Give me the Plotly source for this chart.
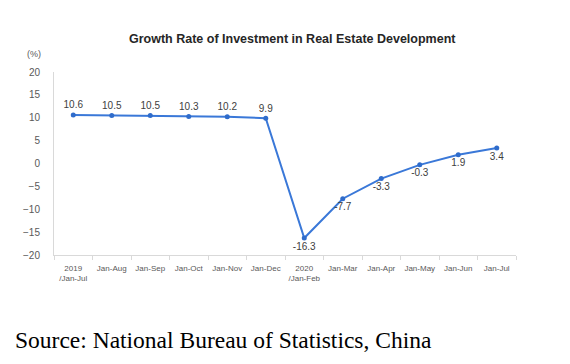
import plotly.graph_objects as go

categories = ["2019<br>/Jan-Jul", "Jan-Aug", "Jan-Sep", "Jan-Oct", "Jan-Nov", "Jan-Dec",
              "2020<br>/Jan-Feb", "Jan-Mar", "Jan-Apr", "Jan-May", "Jan-Jun", "Jan-Jul"]
values = [10.6, 10.5, 10.5, 10.3, 10.2, 9.9, -16.3, -7.7, -3.3, -0.3, 1.9, 3.4]
labels = ["10.6", "10.5", "10.5", "10.3", "10.2", "9.9", "-16.3", "-7.7", "-3.3", "-0.3", "1.9", "3.4"]
label_pos = ["top center"] * 6 + ["bottom center"] * 6
y_ticks = [20, 15, 10, 5, 0, -5, -10, -15, -20]

fig = go.Figure()
fig.add_trace(go.Scatter(
    x=list(range(len(categories))), y=values, mode="lines+markers+text",
    text=labels, textposition=label_pos,
    textfont=dict(family="Arial, Liberation Sans", size=10, color="#404040"),
    line=dict(color="#3A78D8", width=2),
    marker=dict(color="#2F6CCB", size=5),
    cliponaxis=False, showlegend=False,
))

fig.update_layout(
    width=562, height=356,
    margin=dict(l=46, r=54, t=64, b=109),
    paper_bgcolor="white", plot_bgcolor="white",
    font=dict(family="Arial, Liberation Sans", color="#595959"),
)
fig.update_xaxes(
    range=[-0.5, 11.5], tickmode="array",
    tickvals=list(range(len(categories))), ticktext=categories,
    showgrid=False, zeroline=False, showline=True, linecolor="#d9d9d9", linewidth=1,
    ticks="", ticklabelstandoff=5, tickfont=dict(size=8, color="#595959"),
)
fig.update_xaxes(minor=dict(tickvals=[i + 0.5 for i in range(-1, 12)], ticks="outside",
                            ticklen=4, tickcolor="#d9d9d9"))
fig.update_yaxes(
    range=[-20, 20], tickmode="array", tickvals=y_ticks,
    showgrid=False, zeroline=False, showline=True, linecolor="#d9d9d9", linewidth=1,
    ticks="", ticklabelstandoff=11, tickfont=dict(size=10, color="#595959"),
)

fig.add_annotation(text="<b>Growth Rate of Investment in Real Estate Development</b>",
                   xref="paper", yref="paper", x=0.517, y=1.0, yshift=33, showarrow=False,
                   xanchor="center", yanchor="middle",
                   font=dict(family="Arial, Liberation Sans", size=12.5, color="#262626"))
fig.add_annotation(text="(%)", xref="paper", yref="paper", x=0, xshift=-20, y=1.0, yshift=18,
                   showarrow=False, xanchor="center", yanchor="middle",
                   font=dict(size=9, color="#595959"))
fig.add_annotation(text="Source: National Bureau of Statistics, China",
                   xref="paper", yref="paper", x=0, xshift=-41, y=0, yshift=-85,
                   showarrow=False, xanchor="left", yanchor="middle",
                   font=dict(family="Liberation Serif, Times New Roman", size=23.5, color="#000000"))

fig.write_html("out.html")
